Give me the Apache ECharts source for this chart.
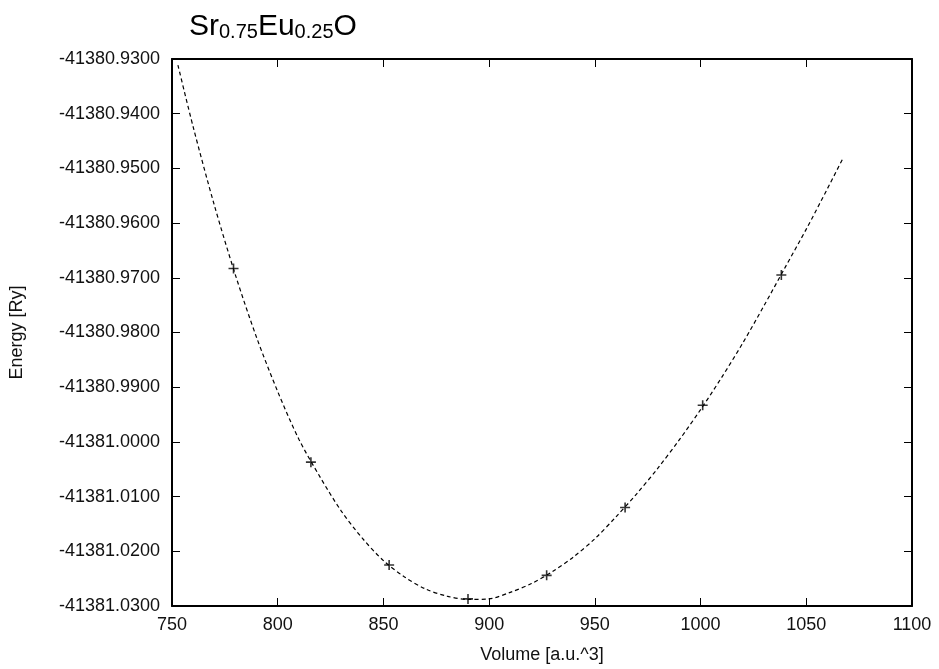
<!DOCTYPE html>
<html>
<head>
<meta charset="utf-8">
<script src="https://cdn.jsdelivr.net/npm/echarts@6/dist/echarts.min.js"></script>
<style>
html,body{margin:0;padding:0;background:#fff;}
#c{width:939px;height:669px;}
</style>
</head>
<body>
<div id="c"></div>
<script>
// Measured points (volume, energy)
var pointVolume = [779.1, 815.7, 852.7, 890.0, 927.2, 964.3, 1001.0, 1038.2];
var pointEnergy = [-41380.9683, -41381.0037, -41381.0225, -41381.0287, -41381.0244, -41381.0120, -41380.9933, -41380.9695];

// Fitted curve
var curveVolume = [752.8, 760, 770, 780, 790, 800, 810, 820, 830, 840, 850, 860, 870, 880, 890, 900, 910, 920, 930, 940, 950, 960, 970, 980, 990, 1000, 1010, 1020, 1030, 1040, 1050, 1060, 1067.3];
var curveEnergy = [-41380.9311, -41380.9424, -41380.9567, -41380.9695, -41380.9809, -41380.9908, -41380.9995, -41381.0064, -41381.0126, -41381.0176, -41381.0217, -41381.0247, -41381.0269, -41381.0282, -41381.0288, -41381.0287, -41381.0275, -41381.0259, -41381.0237, -41381.0210, -41381.0177, -41381.0137, -41381.0094, -41381.0047, -41380.9996, -41380.9941, -41380.9882, -41380.9819, -41380.9751, -41380.9681, -41380.9611, -41380.9537, -41380.9482];

var xTicks = {min: 750, max: 1100, step: 50};
var yTicks = {min: -41381.03, max: -41380.93, step: 0.01};

var pointsData = pointVolume.map(function (v, i) { return [v, pointEnergy[i]]; });
var curveData = curveVolume.map(function (v, i) { return [v, curveEnergy[i]]; });

var FONT = 'Liberation Sans, Arial, sans-serif';
var chart = echarts.init(document.getElementById('c'), null, {renderer: 'canvas'});

var axisLine = {show: true, lineStyle: {color: '#000', width: 2}};
var tick = {show: true, inside: true, length: 8, lineStyle: {color: '#000', width: 1}};

chart.setOption({
  animation: false,
  backgroundColor: '#fff',
  title: {
    text: 'Sr{s|0.75}Eu{s|0.25}O',
    left: 184,
    top: 6,
    textStyle: {
      fontFamily: FONT, fontSize: 30, fontWeight: 'normal', color: '#000',
      rich: {
        s: {fontFamily: FONT, fontSize: 20, color: '#000', verticalAlign: 'bottom', padding: [11, 0, 0, 0]}
      }
    }
  },
  grid: {left: 170, right: 27, top: 59, bottom: 57, containLabel: false},
  xAxis: [{
    type: 'value', min: xTicks.min, max: xTicks.max, interval: xTicks.step,
    name: 'Volume [a.u.^3]', nameLocation: 'middle', nameGap: 40,
    nameTextStyle: {fontFamily: FONT, fontSize: 18, color: '#111'},
    axisLine: axisLine, axisTick: tick,
    axisLabel: {fontFamily: FONT, fontSize: 18, color: '#111', margin: 10,
      formatter: function (v) { return String(v); }},
    splitLine: {show: false}
  }, {
    type: 'value', position: 'top', min: xTicks.min, max: xTicks.max, interval: xTicks.step,
    axisLine: axisLine, axisTick: tick, axisLabel: {show: false}, splitLine: {show: false}
  }],
  yAxis: [{
    type: 'value', min: yTicks.min, max: yTicks.max, interval: yTicks.step,
    name: 'Energy [Ry]', nameLocation: 'middle', nameGap: 146, nameRotate: 90,
    nameTextStyle: {fontFamily: FONT, fontSize: 18, color: '#111'},
    axisLine: axisLine, axisTick: tick,
    axisLabel: {fontFamily: FONT, fontSize: 18, color: '#111', margin: 12,
      formatter: function (v) { return v.toFixed(4); }},
    splitLine: {show: false}
  }, {
    type: 'value', position: 'right', min: yTicks.min, max: yTicks.max, interval: yTicks.step,
    axisLine: axisLine, axisTick: tick, axisLabel: {show: false}, splitLine: {show: false}
  }],
  series: [{
    type: 'line', data: curveData, showSymbol: false, symbol: 'none', smooth: 0.3,
    lineStyle: {color: '#000', width: 1.2, type: [4, 3]}, z: 2
  }, {
    type: 'scatter', data: pointsData,
    symbol: 'path://M4.2,0H5.8V4.2H10V5.8H5.8V10H4.2V5.8H0V4.2H4.2Z',
    symbolSize: 10, itemStyle: {color: '#000'}, z: 3
  }]
});
</script>
</body>
</html>
